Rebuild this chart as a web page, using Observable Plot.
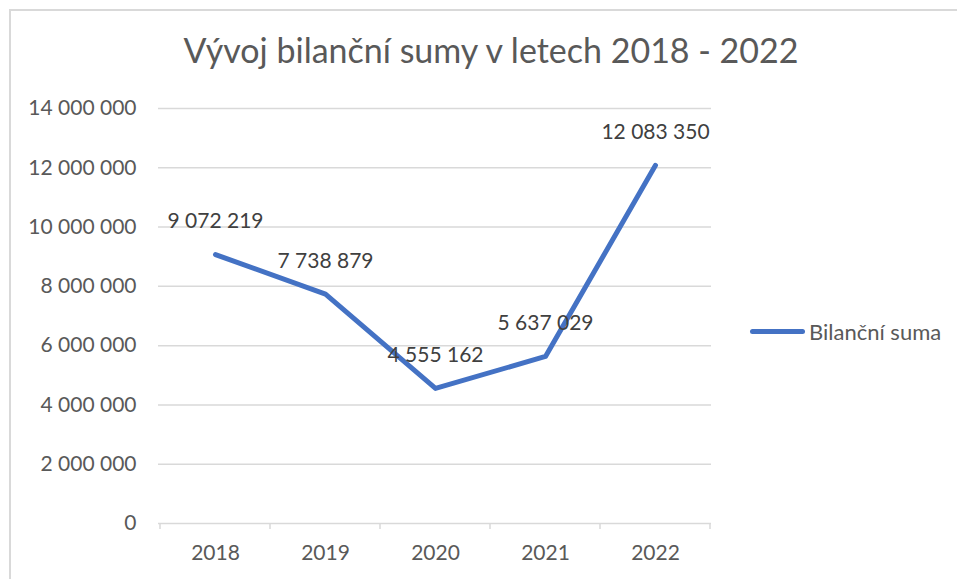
<!DOCTYPE html>
<html>
<head>
<meta charset="utf-8">
<script src="https://cdn.jsdelivr.net/npm/d3@7"></script>
<script src="https://cdn.jsdelivr.net/npm/@observablehq/plot@0.6"></script>
<style>
  html, body { margin: 0; padding: 0; background: #fff; }
  #wrap { position: relative; width: 957px; height: 579px; overflow: hidden; font-family: Lato, "Open Sans", sans-serif; }
  #frame { position: absolute; left: 9px; top: 9px; width: 960px; height: 580px; border-left: 2px solid #d9d9d9; border-top: 2px solid #d9d9d9; }
  #title { position: absolute; left: 0; top: 29px; width: 982px; text-align: center; font-size: 34px; color: #595959; }
  #legend { position: absolute; left: 750px; top: 318px; display: flex; align-items: center; font-size: 22px; color: #595959; }
  #legend .sw { width: 55px; height: 5px; border-radius: 3px; background: #4472C4; margin-right: 4px; }
  #chart { position: absolute; left: 0; top: 0; }
</style>
</head>
<body>
<div id="wrap">
  <div id="frame"></div>
  <div id="chart"></div>
  <div id="title">Vývoj bilanční sumy v letech 2018 - 2022</div>
  <div id="legend"><div class="sw"></div><span>Bilanční suma</span></div>
</div>
<script>
const years = ["2018", "2019", "2020", "2021", "2022"];
const values = [9072219, 7738879, 4555162, 5637029, 12083350];
const yTicks = [0, 2000000, 4000000, 6000000, 8000000, 10000000, 12000000, 14000000];
const seriesName = "Bilanční suma";

const data = years.map((y, i) => ({year: y, value: values[i]}));
const fmt = v => d3.format(",")(v).replace(/,/g, " ");

const W = 957, H = 579, mL = 158, mR = 246, mT = 108, mB = 56;

const chart = Plot.plot({
  width: W,
  height: H,
  marginLeft: mL,
  marginRight: mR,
  marginTop: mT,
  marginBottom: mB,
  style: {fontFamily: "Lato, 'Open Sans', sans-serif", fontSize: "21px", color: "#595959", background: "transparent"},
  x: {type: "band", domain: years, padding: 0, label: null},
  y: {domain: [0, 14000000], label: null},
  marks: [
    Plot.ruleY(yTicks, {stroke: "#d9d9d9", strokeWidth: 1.5, strokeOpacity: 1}),
    Plot.axisY({ticks: yTicks, tickFormat: fmt, tickSize: 0, tickPadding: 22, fontSize: 21, fill: "#595959"}),
    Plot.axisX({tickSize: 0, tickPadding: 22, fontSize: 21, fill: "#595959"}),
    Plot.line(data, {x: "year", y: "value", stroke: "#4472C4", strokeWidth: 5, strokeLinecap: "round", strokeLinejoin: "round"}),
    Plot.text(data, {x: "year", y: "value", text: d => fmt(d.value), dy: -33, fontSize: 21, fill: "#404040", textAnchor: "middle"})
  ]
});

document.getElementById("chart").append(chart);
// boundary ticks below the axis line at each category edge
const svg = d3.select(chart);
const xs = chart.scale("x");
const ys = chart.scale("y");
const y0 = ys.apply(0);
const edges = years.map(y => xs.apply(y)).concat([xs.apply(years[years.length - 1]) + xs.bandwidth]);
svg.append("g").selectAll("line").data(edges).join("line")
  .attr("x1", d => d).attr("x2", d => d)
  .attr("y1", y0).attr("y2", y0 + 6)
  .attr("stroke", "#d9d9d9").attr("stroke-width", 1.5);
</script>
</body>
</html>
